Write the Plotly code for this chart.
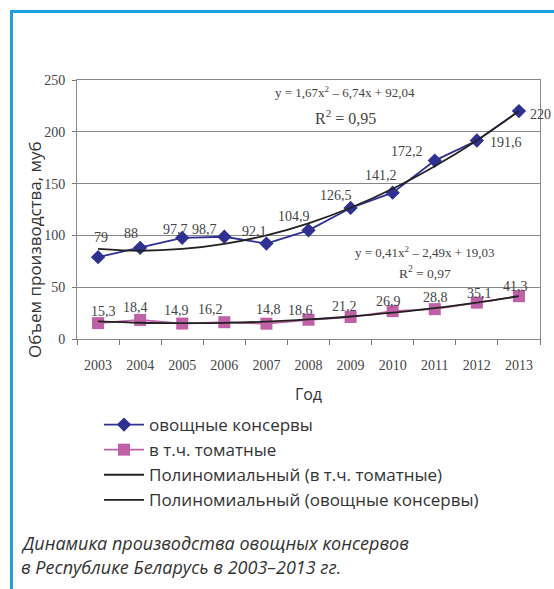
import plotly.graph_objects as go

years = ["2003", "2004", "2005", "2006", "2007", "2008", "2009", "2010", "2011", "2012", "2013"]
veg = [79, 88, 97.7, 98.7, 92.1, 104.9, 126.5, 141.2, 172.2, 191.6, 220]
tomato = [15.3, 18.4, 14.9, 16.2, 14.8, 18.6, 21.2, 26.9, 28.8, 35.1, 41.3]
veg_trend = [87.0, 85.2, 86.9, 91.8, 100.1, 111.7, 126.7, 145.0, 166.7, 191.6, 220.0]
tomato_trend = [17.0, 15.7, 15.3, 15.6, 16.8, 18.9, 21.7, 25.4, 29.8, 35.1, 41.3]

veg_name = "овощные консервы"
tom_name = "в т.ч. томатные"
tom_trend_name = "Полиномиальный (в т.ч. томатные)"
veg_trend_name = "Полиномиальный (овощные консервы)"

# label offsets in pixels (style only): (dx, dy up)
veg_label_shift = [(3, 20), (-9, 14), (-7, 8), (-20, 7), (-12, 12), (-15, 14),
                   (-15, 12), (-12, 17), (-28, 9), (29, -2), (22, -3)]
tom_label_shift = [(5, 12), (-5, 12), (-6, 13), (-14, 13), (2, 14), (-8, 9),
                   (-6, 11), (-4, 10), (1, 12), (3, 9), (-3, 10)]

def fmt(v):
    return ("%g" % v).replace(".", ",")

W, H = 554, 589
L, R, T, B = 77, 14, 80, 250
pw, ph = W - L - R, H - T - B

def px(x):
    return (x - L) / pw

def py(y):
    return (H - B - y) / ph

serif = "Liberation Serif"
sans = "Open Sans"

fig = go.Figure()
fig.add_trace(go.Scatter(
    x=years, y=veg, name=veg_name, mode="lines+markers",
    line=dict(color="#2e3192", width=1.8),
    marker=dict(symbol="diamond", size=11, color="#2e3192"),
    cliponaxis=False,
))
fig.add_trace(go.Scatter(
    x=years, y=tomato, name=tom_name, mode="lines+markers",
    line=dict(color="#c060a6", width=1.8),
    marker=dict(symbol="square", size=12, color="#c060a6"),
    cliponaxis=False,
))
fig.add_trace(go.Scatter(
    x=years, y=tomato_trend, name=tom_trend_name, mode="lines",
    line=dict(color="#222", width=1.8, shape="spline"),
))
fig.add_trace(go.Scatter(
    x=years, y=veg_trend, name=veg_trend_name, mode="lines",
    line=dict(color="#222", width=1.8, shape="spline"),
))

annotations = []
for series, shifts in ((veg, veg_label_shift), (tomato, tom_label_shift)):
    for i, (v, (dx, dy)) in enumerate(zip(series, shifts)):
        annotations.append(dict(
            x=i, y=v, xref="x", yref="y", text=fmt(v), showarrow=False,
            xanchor="center", yanchor="middle", xshift=dx, yshift=dy,
            font=dict(family=serif, size=14, color="#444"),
        ))

paper_ann = [
    dict(text="y = 1,67x<sup>2</sup> – 6,74x + 92,04", x=px(345), y=py(92),
         font=dict(family=serif, size=13, color="#444")),
    dict(text="R<sup>2</sup> = 0,95", x=px(345), y=py(117),
         font=dict(family=serif, size=16, color="#444")),
    dict(text="y = 0,41x<sup>2</sup> – 2,49x + 19,03", x=px(424), y=py(252),
         font=dict(family=serif, size=13, color="#444")),
    dict(text="R<sup>2</sup> = 0,97", x=px(425), y=py(272),
         font=dict(family=serif, size=13.5, color="#444")),
    dict(text="Объем производства, муб", x=px(34), y=py(250), textangle=-90,
         font=dict(family=sans, size=17, color="#333")),
    dict(text="<i>Динамика производства овощных консервов</i>", x=px(19), y=py(543),
         xanchor="left", font=dict(family=sans, size=18, color="#333")),
    dict(text="<i>в Республике Беларусь в 2003–2013 гг.</i>", x=px(19), y=py(567),
         xanchor="left", font=dict(family=sans, size=18, color="#333")),
]
for a in paper_ann:
    a.update(xref="paper", yref="paper", showarrow=False)
    a.setdefault("xanchor", "center")
    a["yanchor"] = "middle"
annotations += paper_ann

border = "#1aa0dc"
shapes = [
    dict(type="line", xref="paper", yref="paper", x0=px(11.5), x1=px(556), y0=py(11.5), y1=py(11.5),
         line=dict(color=border, width=3)),
    dict(type="line", xref="paper", yref="paper", x0=px(11.5), x1=px(11.5), y0=py(10), y1=py(592),
         line=dict(color=border, width=3)),
]

fig.update_layout(
    width=W, height=H,
    margin=dict(l=L, r=R, t=T, b=B, autoexpand=False),
    paper_bgcolor="white", plot_bgcolor="white",
    showlegend=True,
    legend=dict(x=px(99), y=py(407), xanchor="left", yanchor="top",
                font=dict(family=sans, size=17, color="#333"),
                tracegroupgap=0, itemwidth=40, bgcolor="rgba(0,0,0,0)"),
    annotations=annotations,
    shapes=shapes,
    xaxis=dict(
        type="category", range=[-0.5, 10.5], tickson="boundaries",
        ticks="outside", ticklen=5, tickcolor="#777",
        showline=True, linecolor="#888", linewidth=1, mirror=True,
        showgrid=False, automargin=False,
        ticklabelstandoff=13,
        tickfont=dict(family=serif, size=14, color="#444"),
        title=dict(text="Год", font=dict(family=sans, size=16, color="#333"), standoff=17),
    ),
    yaxis=dict(
        range=[0, 250], dtick=50,
        ticks="outside", ticklen=4, tickcolor="#777",
        showline=True, linecolor="#888", linewidth=1, mirror=True,
        showgrid=True, gridcolor="#888", gridwidth=1,
        zeroline=False, automargin=False,
        ticklabelstandoff=4,
        tickfont=dict(family=serif, size=14, color="#444"),
    ),
)

fig.write_html("out.html", config={"displayModeBar": False},
               post_script="document.body.style.margin='0';")
